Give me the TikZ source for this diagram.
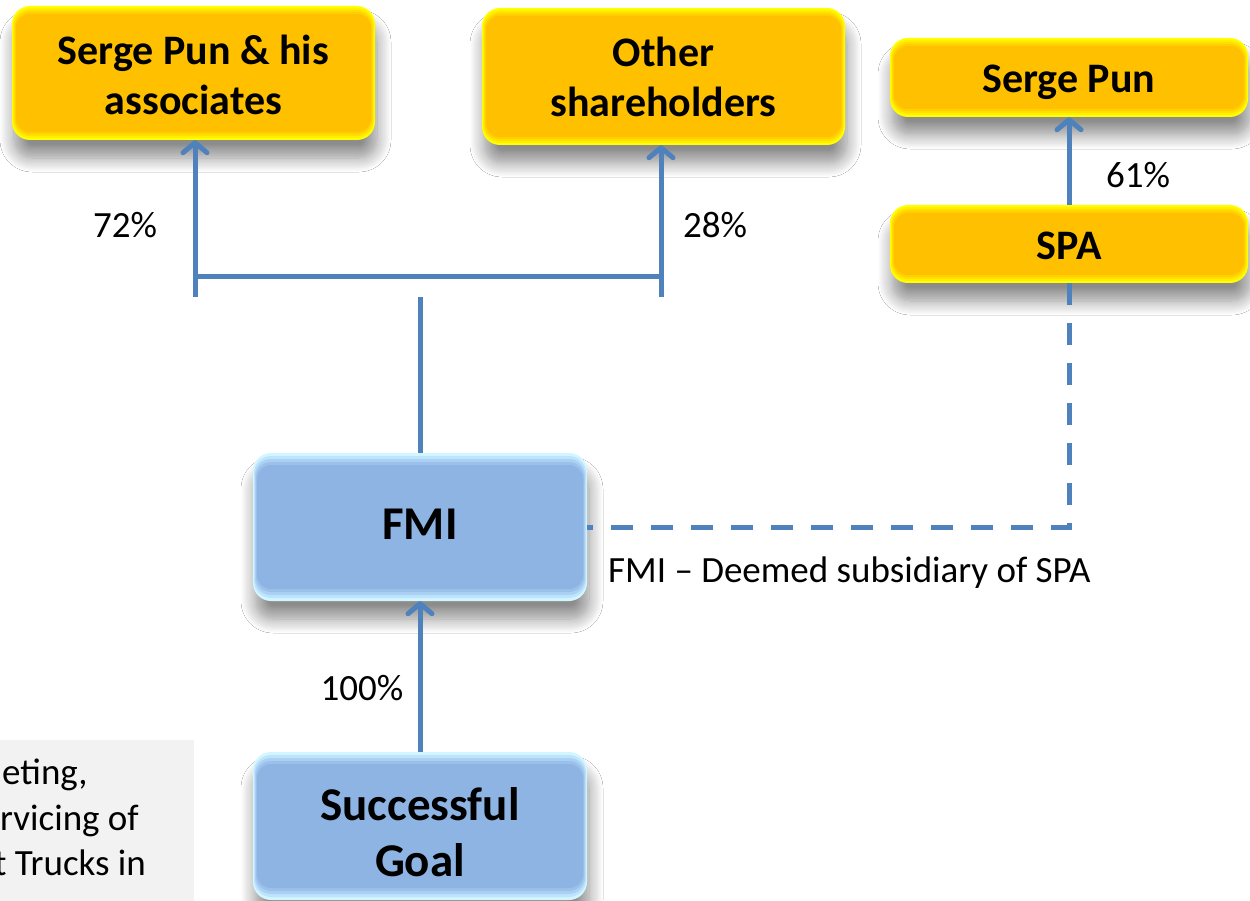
\documentclass[tikz,border=0pt]{standalone}
\usepackage{fontspec}
\setmainfont{Carlito}
\usetikzlibrary{arrows.meta,shadows.blur,calc}
\definecolor{lnblue}{HTML}{4F81BD}
\definecolor{gold}{HTML}{FFC000}
\definecolor{y1}{HTML}{FFFF00}
\definecolor{y2}{HTML}{FFF000}
\definecolor{y3}{HTML}{FFDF00}
\definecolor{y4}{HTML}{FFCF00}
\definecolor{boxB}{HTML}{8EB4E3}
\definecolor{b1}{HTML}{D2F6FF}
\definecolor{b2}{HTML}{BDE4FC}
\definecolor{b3}{HTML}{AAD0F4}
\definecolor{b4}{HTML}{9BC1EB}
\definecolor{panel}{HTML}{F2F2F2}
\newcommand{\shiftdown}[2]{\raisebox{-#1}[\height][\depth]{#2}}
\begin{document}
\begin{tikzpicture}[x=1pt,y=-1pt,
  box/.style={rounded corners=18pt, inner sep=0pt, align=center,
    blur shadow={shadow xshift=2pt, shadow yshift=-18pt,
      shadow blur radius=14pt, shadow blur steps=14, shadow opacity=45}},
  ybox/.style={box, fill=y1, font=\bfseries\fontsize{42}{50}\selectfont,
    path picture={
      \fill[y2, rounded corners=17pt] ($(path picture bounding box.south west)+(1pt,2pt)$) rectangle ($(path picture bounding box.north east)+(-1pt,-2pt)$);
      \fill[y3, rounded corners=16pt] ($(path picture bounding box.south west)+(2pt,4pt)$) rectangle ($(path picture bounding box.north east)+(-2pt,-4pt)$);
      \fill[y4, rounded corners=15pt] ($(path picture bounding box.south west)+(3pt,6pt)$) rectangle ($(path picture bounding box.north east)+(-3pt,-6pt)$);
      \fill[gold, rounded corners=14pt] ($(path picture bounding box.south west)+(4pt,8pt)$) rectangle ($(path picture bounding box.north east)+(-4pt,-8pt)$);
    }},
  bbox/.style={box, fill=b1, font=\bfseries\fontsize{47}{56}\selectfont,
    path picture={
      \fill[b2, rounded corners=17pt] ($(path picture bounding box.south west)+(1pt,3pt)$) rectangle ($(path picture bounding box.north east)+(-1pt,-3pt)$);
      \fill[b3, rounded corners=16pt] ($(path picture bounding box.south west)+(2pt,6pt)$) rectangle ($(path picture bounding box.north east)+(-2pt,-6pt)$);
      \fill[b4, rounded corners=15pt] ($(path picture bounding box.south west)+(3pt,9pt)$) rectangle ($(path picture bounding box.north east)+(-3pt,-9pt)$);
      \fill[boxB, rounded corners=14pt] ($(path picture bounding box.south west)+(4pt,12pt)$) rectangle ($(path picture bounding box.north east)+(-4pt,-12pt)$);
    }},
  conn/.style={draw=lnblue, line width=5pt},
  arr/.style={conn, -{Straight Barb[length=10pt,width=24pt,round]}},
  dashconn/.style={conn, dash pattern=on 22pt off 18pt},
  lbl/.style={inner sep=0pt, font=\fontsize{37}{45}\selectfont},
]
\useasboundingbox (0,0) rectangle (1250,901);
\clip (0,0) rectangle (1250,901);
\fill[white] (0,0) rectangle (1250,901);

% boxes
\node[ybox, minimum width=363pt, minimum height=134pt] (assoc) at (193.5,73) {\shiftdown{7pt}{\begin{tabular}{@{}c@{}}Serge Pun \& his\\associates\end{tabular}}};
\node[ybox, minimum width=363pt, minimum height=137pt] (other) at (663.5,76.5) {Other\\shareholders};
\node[ybox, minimum width=358pt, minimum height=79pt] (sp) at (1069,77.5) {\shiftdown{5pt}{Serge Pun}};
\node[ybox, minimum width=358pt, minimum height=78pt] (spa) at (1069,244) {\shiftdown{2pt}{SPA}};
\node[bbox, minimum width=334pt, minimum height=148pt] (fmi) at (420,527) {\shiftdown{-3pt}{FMI}};
\node[bbox, minimum width=334pt, minimum height=148pt] (goal) at (420,826) {\shiftdown{11pt}{\begin{tabular}{@{}c@{}}Successful\\Goal\end{tabular}}};

% side panel (partly outside the picture)
\fill[panel] (-20,740) rectangle (194,920);
\node[lbl, anchor=base west] (p1) at (2,784) {eting,};
\node[lbl, anchor=base west] (p2) at (0,830) {rvicing of};
\node[lbl, anchor=base west] (p3) at (-6,875) {t Trucks in};

% connectors
\coordinate (bl) at (195,297);
\coordinate (br) at (661,297);
\coordinate (hl) at (195,277);
\coordinate (hr) at (661,277);
\coordinate (bm) at (420,297);
\draw[arr] (bl) -- (bl |- assoc.south);
\draw[arr] (br) -- (br |- other.south);
\draw[conn] (hl) -- (hr);
\draw[conn] (fmi.north) -- (bm);
\draw[arr] (goal.north) -- (fmi.south);
\draw[arr] (spa.north) -- (sp.south);
\draw[dashconn] (spa.south) |- (fmi.east);

% labels
\node[lbl] (l72) at (125,225) {72\%};
\node[lbl] (l28) at (715,225) {28\%};
\node[lbl] (l61) at (1138,175) {61\%};
\node[lbl] (l100) at (362,688) {100\%};
\node[lbl, anchor=west] (sub) at (608,573) {FMI – Deemed subsidiary of SPA};
\end{tikzpicture}
\end{document}
